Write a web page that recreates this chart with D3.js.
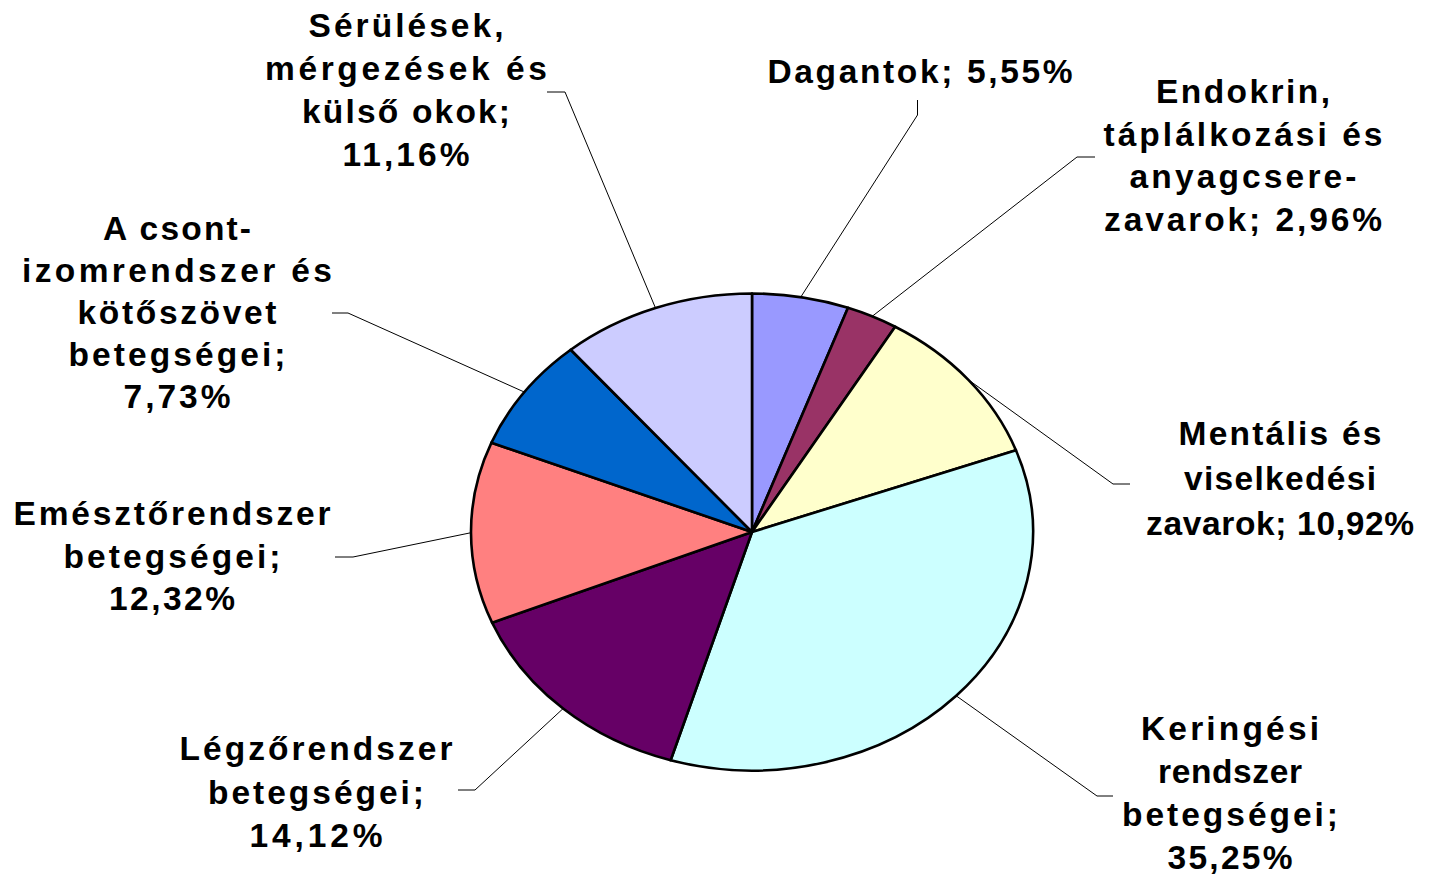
<!DOCTYPE html>
<html>
<head>
<meta charset="utf-8">
<script src="https://cdn.jsdelivr.net/npm/d3@7/dist/d3.min.js"></script>
<style>
  html, body { margin: 0; padding: 0; background: #fff; }
  svg { display: block; }
  text { font-family: "Liberation Sans", Arial, sans-serif; font-weight: bold; font-size: 33.5px; fill: #000; }
</style>
</head>
<body>
<svg id="chart" width="1455" height="876"></svg>
<script>
// ---- data ----
const categories = [
  "Dagantok",
  "Endokrin, táplálkozási és anyagcsere-zavarok",
  "Mentális és viselkedési zavarok",
  "Keringési rendszer betegségei",
  "Légzőrendszer betegségei",
  "Emésztőrendszer betegségei",
  "A csont-izomrendszer és kötőszövet betegségei",
  "Sérülések, mérgezések és külső okok"
];
const values = [5.55, 2.96, 10.92, 35.25, 14.12, 12.32, 7.73, 11.16];
const valueLabels = ["5,55%", "2,96%", "10,92%", "35,25%", "14,12%", "12,32%", "7,73%", "11,16%"];
const labelLines = [
  ["Dagantok; 5,55%"],
  ["Endokrin,", "táplálkozási és", "anyagcsere-", "zavarok; 2,96%"],
  ["Mentális és", "viselkedési", "zavarok; 10,92%"],
  ["Keringési", "rendszer", "betegségei;", "35,25%"],
  ["Légzőrendszer", "betegségei;", "14,12%"],
  ["Emésztőrendszer", "betegségei;", "12,32%"],
  ["A csont-", "izomrendszer és", "kötőszövet", "betegségei;", "7,73%"],
  ["Sérülések,", "mérgezések és", "külső okok;", "11,16%"]
];
const colors = ["#9999FF", "#993366", "#FFFFCC", "#CCFFFF", "#660066", "#FF8080", "#0066CC", "#CCCCFF"];

// ---- layout (positions / sizes) ----
const cx = 752, cy = 532, rx = 281, ry = 238.5;
const labelLayout = [
  { x: 920,  y: 83,  lh: 43,   w: [305] },
  { x: 1243, y: 103, lh: 42.5, w: [174, 279, 227, 278] },
  { x: 1280, y: 445, lh: 45,   w: [203, 192, 268] },
  { x: 1230, y: 740, lh: 43,   w: [178, 144, 216, 125] },
  { x: 316,  y: 760, lh: 43.5, w: [273, 216, 133] },
  { x: 172,  y: 525, lh: 42.5, w: [317, 217, 126] },
  { x: 177,  y: 240, lh: 42,   w: [148, 310, 199, 217, 107] },
  { x: 406,  y: 37,  lh: 43,   w: [195, 282, 208, 127] }
];
const leaderLayout = [
  [[917.5, 100], [917.5, 115]],
  [[1095, 157], [1077, 157]],
  [[1130, 484], [1113, 484]],
  [[1113, 796], [1097, 796]],
  [[458, 790], [475, 790]],
  [[335, 557], [353, 557]],
  [[332, 313], [348, 313]],
  [[547, 92], [565, 92]]
];

const svg = d3.select("#chart");

const pie = d3.pie().sort(null).value(d => d).startAngle(0).endAngle(2 * Math.PI);
const arcs = pie(values);
const arc = d3.arc().innerRadius(0).outerRadius(ry);

// slices
svg.append("g")
  .attr("transform", `translate(${cx},${cy}) scale(${rx / ry},1)`)
  .selectAll("path")
  .data(arcs)
  .join("path")
  .attr("d", arc)
  .attr("fill", (d, i) => colors[i])
  .attr("stroke", "#000")
  .attr("stroke-width", 2.6)
  .attr("stroke-linejoin", "round")
  .attr("vector-effect", "non-scaling-stroke");

// leader lines
const edgePoint = a => [cx + rx * Math.sin(a), cy - ry * Math.cos(a)];
svg.append("g")
  .selectAll("path")
  .data(arcs)
  .join("path")
  .attr("d", (d, i) => {
    const mid = (d.startAngle + d.endAngle) / 2;
    const pts = leaderLayout[i].concat([edgePoint(mid)]);
    return d3.line()(pts);
  })
  .attr("fill", "none")
  .attr("stroke", "#000")
  .attr("stroke-width", 1);

// labels
const lg = svg.append("g");
labelLines.forEach((lines, i) => {
  const L = labelLayout[i];
  lines.forEach((line, j) => {
    lg.append("text")
      .attr("x", L.x)
      .attr("y", L.y + j * L.lh)
      .attr("text-anchor", "middle")
      .attr("textLength", L.w[j])
      .attr("lengthAdjust", "spacing")
      .text(line);
  });
});
</script>
</body>
</html>
